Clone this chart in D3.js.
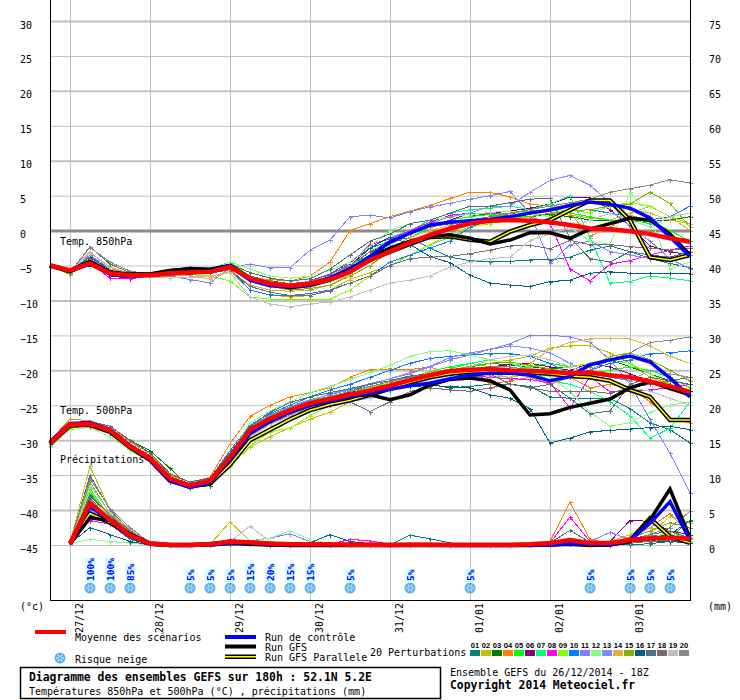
<!DOCTYPE html>
<html>
<head>
<meta charset="utf-8">
<script src="https://cdn.jsdelivr.net/npm/d3@7"></script>
<title>Diagramme des ensembles GEFS</title>
<style>
  body { margin: 0; background: #fff; }
  svg text { font-family: "DejaVu Sans Mono", monospace; font-size: 10px; fill: #000; }
</style>
</head>
<body>
<script>

// ---------- data ----------
var hours = [0,6,12,18,24,30,36,42,48,54,60,66,72,78,84,90,96,102,108,114,120,126,132,138,144,150,156,162,168,174,180,186,192];
var precipHours = hours.slice(1);

var dayTicks = [6,30,54,78,102,126,150,174];
var dayLabels = ["27/12","28/12","29/12","30/12","31/12","01/01","02/01","03/01"];

var leftTicks = [-45,-40,-35,-30,-25,-20,-15,-10,-5,0,5,10,15,20,25,30];
var rightTicks = [0,5,10,15,20,25,30,35,40,45,50,55,60,65,70,75];

var memberNames = ["01","02","03","04","05","06","07","08","09","10","11","12","13","14","15","16","17","18","19","20"];
var memberColors = ["#008080","#c0c000","#008000","#ff8000","#00ff00","#800080","#00ff80","#ff00ff","#80ff00","#0080ff",
                    "#8080ff","#80ff80","#8888ff","#e0b040","#80b000","#006080","#507080","#806870","#c0c0c0","#888888"];

// temperature 850 hPa (°C), one row per perturbation
var t850 = [
  [-5,-5.6,-4.2,-5.8,-6.3,-6.5,-6.2,-5.9,-5.8,-5.0,-6.5,-7.4,-7.8,-7.2,-6.2,-4.5,-2.5,-1.5,-1.0,-2.5,-3.8,-4.3,-4.5,-4.4,-4.2,-4.2,-3.8,-2.8,-2.2,-3.0,-4.0,-4.7,-5.3],
  [-5,-6.2,-3.5,-5.5,-6.6,-6.6,-6.3,-6.5,-6.6,-5.8,-8.5,-9.2,-9.5,-9.3,-8.5,-7.0,-6.0,-5.0,-3.5,-2.0,-1.0,0.5,1.0,1.8,2.0,2.5,2.2,1.8,1.5,2.5,3.5,2.0,0.0],
  [-5,-5.7,-4.8,-6.0,-6.4,-6.5,-6.2,-6.0,-5.8,-4.8,-6.5,-7.2,-7.6,-7.3,-6.5,-5.0,-3.0,-2.5,-1.0,0.5,1.5,2.0,2.5,2.5,2.0,2.3,2.0,1.5,1.5,1.5,1.3,1.5,2.0],
  [-5,-5.5,-3.8,-5.2,-6.2,-6.7,-6.5,-6.2,-6.0,-5.3,-6.8,-7.0,-7.2,-6.5,-4.5,0.0,1.0,2.0,2.8,3.6,4.6,5.5,5.5,4.8,3.8,3.5,2.5,-0.8,0.5,2.2,1.5,0.0,-1.5],
  [-5,-5.8,-4.5,-6.2,-6.5,-6.2,-5.8,-5.7,-5.5,-4.5,-6.5,-7.5,-7.8,-7.5,-7.0,-6.0,-4.0,-2.5,-1.0,0.5,1.5,2.0,2.3,2.5,2.8,3.0,2.5,2.0,1.5,1.5,1.0,0.0,-1.5],
  [-5,-5.9,-4.0,-6.5,-6.8,-6.5,-6.2,-6.0,-5.9,-4.9,-7.0,-7.8,-8.0,-7.5,-6.8,-5.2,-3.0,-1.8,-0.5,0.5,1.5,2.5,2.5,2.8,3.2,3.8,4.8,4.7,3.0,0.6,-2.2,-3.0,-3.5],
  [-5,-5.7,-4.4,-6.0,-6.3,-6.4,-6.0,-5.8,-5.7,-5.0,-6.8,-7.5,-7.7,-7.3,-6.5,-5.0,-3.5,-1.0,0.0,1.5,2.5,3.0,3.2,3.5,3.0,3.8,5.0,-1.0,-7.5,-7.3,-6.5,-6.8,-7.2],
  [-5,-5.8,-4.6,-6.8,-6.9,-6.5,-6.2,-6.0,-5.8,-5.3,-7.2,-7.6,-7.8,-7.2,-6.3,-4.8,-2.0,-1.2,0.0,1.2,2.2,2.5,2.5,2.2,2.0,1.0,-5.5,-7.2,-4.8,-4.3,-3.5,-2.8,-2.2],
  [-5,-5.5,-5.0,-5.6,-6.0,-6.2,-6.2,-6.3,-6.5,-7.2,-9.5,-9.8,-9.9,-9.9,-9.8,-8.5,-6.5,-5.0,-3.5,-2.0,-0.5,0.5,1.0,1.5,2.0,2.5,3.0,2.5,3.5,4.0,3.5,2.0,1.0],
  [-5,-5.7,-4.3,-5.9,-6.5,-6.3,-5.8,-5.2,-6.0,-5.5,-8.5,-9.2,-9.3,-9.0,-8.5,-7.5,-6.5,-4.5,-3.5,-2.5,-1.5,0.5,1.5,2.0,2.0,2.5,2.8,3.0,2.5,2.0,1.5,2.0,3.5],
  [-5,-5.9,-3.5,-5.5,-6.3,-6.2,-6.5,-7.0,-7.5,-5.3,-4.8,-5.3,-5.3,-2.8,-1.35,2.0,2.2,1.8,2.7,3.4,3.9,4.5,5.0,5.6,2.5,-4.7,-2.0,-1.5,-3.0,-3.5,-4.0,-4.3,-3.5],
  [-5,-5.6,-4.8,-5.8,-6.2,-6.3,-6.0,-5.8,-5.6,-4.5,-5.5,-6.5,-6.8,-6.5,-5.7,-4.5,-2.2,0.0,1.0,1.5,2.0,2.3,2.6,2.8,2.5,2.0,0.5,-1.5,-2.0,5.5,2.0,-5.5,-4.5],
  [-5,-5.8,-3.8,-5.9,-6.4,-6.5,-6.3,-6.1,-6.0,-5.4,-7.0,-7.8,-8.1,-7.7,-6.9,-5.5,-3.5,-2.0,-0.5,1.0,2.0,2.5,3.5,3.5,5.5,7.2,7.9,6.5,4.0,0.5,-1.5,-4.0,-5.5],
  [-5,-5.8,-3.2,-5.2,-6.5,-6.6,-6.4,-6.5,-6.9,-5.8,-7.8,-8.5,-8.7,-8.5,-7.8,-6.3,-4.0,-2.5,-1.0,0.0,0.8,1.5,2.0,2.0,2.5,3.2,3.8,4.5,4.0,3.0,2.5,1.5,1.0],
  [-5,-6.3,-4.0,-6.2,-6.5,-6.4,-6.0,-5.9,-5.7,-4.9,-7.0,-8.0,-8.5,-8.3,-7.8,-6.5,-5.0,-3.0,-2.0,-0.5,0.5,1.5,2.0,2.2,2.0,2.5,2.8,3.0,3.5,3.8,5.5,3.9,0.5],
  [-5,-5.7,-3.8,-5.6,-6.4,-6.6,-6.4,-6.2,-6.0,-5.5,-7.0,-7.8,-8.2,-7.8,-6.8,-5.0,-2.5,-0.9,-2.0,-3.7,-4.6,-6.4,-7.5,-7.8,-8.0,-7.3,-7.1,-6.1,-5.9,-6.1,-6.1,-6.1,-6.2],
  [-5,-6.0,-2.3,-4.8,-6.0,-6.3,-6.0,-5.8,-5.5,-4.8,-6.0,-6.8,-7.2,-6.9,-5.5,-3.5,-1.5,-0.5,1.0,1.5,2.5,3.5,3.5,4.0,4.5,4.6,-1.0,-4.0,-4.5,-3.0,-3.5,-3.8,-3.0],
  [-5,-5.8,-4.0,-6.2,-6.6,-6.5,-6.3,-6.2,-6.1,-5.6,-8.0,-8.8,-9.3,-9.3,-8.6,-7.5,-6.5,-5.0,-4.0,-3.8,-3.7,-3.3,-2.8,-2.2,-2.1,-2.6,-1.4,-2.0,-2.0,-2.3,-2.5,-2.8,-2.5],
  [-5,-5.9,-3.0,-5.5,-6.4,-6.6,-6.8,-6.7,-6.5,-6.0,-9.5,-10.5,-10.9,-10.5,-10.2,-9.5,-8.5,-7.5,-7.1,-6.5,-5.2,-4.5,-4.0,-3.8,-1.4,-0.5,0.5,1.5,2.5,1.5,0.5,2.0,2.5],
  [-5,-6.0,-2.4,-4.5,-5.8,-6.2,-6.0,-5.8,-5.6,-5.0,-6.5,-7.3,-7.6,-7.3,-6.6,-5.0,-3.0,-1.5,-0.5,0.5,1.0,1.5,2.0,2.5,3.0,3.5,4.0,4.5,5.5,6.0,6.5,7.3,6.8]
];
var mean850 = [-5,-5.7,-4.7,-6.1,-6.4,-6.4,-6.1,-6.0,-5.9,-5.2,-6.8,-7.6,-7.9,-7.6,-7.0,-5.9,-4.2,-3.0,-1.7,-0.6,0.3,1.0,1.4,1.5,1.4,1.2,0.8,0.3,0.2,-0.1,-0.5,-1.1,-1.6];
var ctrl850 = [-5,-5.8,-4.8,-6.2,-6.5,-6.4,-6.1,-6.0,-5.8,-5.0,-7.1,-7.9,-8.0,-7.8,-6.8,-5.6,-3.7,-1.6,-0.35,0.8,1.2,1.4,1.6,2.0,2.5,2.95,3.6,4.1,3.75,3.2,1.8,-0.9,-3.7];
var gfs850 = [-5,-5.8,-4.6,-6.0,-6.3,-6.2,-5.7,-5.5,-5.6,-5.0,-6.8,-7.6,-8.0,-7.6,-6.8,-5.5,-3.8,-2.5,-1.5,-0.8,-0.6,-1.1,-1.9,-1.35,-0.3,-0.3,-1.1,0.2,1.0,1.8,1.5,-0.5,-3.5];
var para850 = [-5,-5.8,-4.5,-6.0,-6.3,-6.3,-5.8,-5.5,-5.6,-5.1,-6.9,-7.7,-8.1,-7.8,-7.0,-5.8,-4.2,-3.0,-1.9,-0.9,-0.8,-1.3,-1.6,-0.15,0.8,1.5,2.95,4.3,4.3,1.5,-3.8,-4.2,-3.5];

// temperature 500 hPa (°C)
var t500 = [
  [-30.0,-27.5,-27.3,-28.2,-30.5,-32.2,-35.2,-36.3,-35.6,-32.0,-28.5,-26.8,-25.6,-24.6,-24.0,-23.2,-22.5,-22.0,-21.8,-22.0,-22.5,-22.3,-22.0,-22.0,-22.3,-23.8,-24.0,-24.0,-24.0,-25.5,-27.5,-28.5,-30.4],
  [-30.8,-28.2,-28.0,-29.0,-31.2,-33.0,-35.5,-36.5,-36.0,-33.5,-31.0,-29.5,-28.2,-27.0,-26.0,-24.5,-23.0,-22.0,-21.0,-20.5,-20.0,-19.5,-19.0,-18.5,-18.0,-16.8,-16.5,-16.5,-17.5,-19.0,-21.0,-22.0,-23.0],
  [-30.2,-27.6,-27.5,-28.3,-30.0,-31.5,-34.0,-36.8,-36.5,-32.5,-28.8,-26.8,-25.5,-24.5,-23.8,-23.0,-22.0,-21.5,-21.0,-20.5,-20.0,-19.5,-19.0,-19.2,-19.5,-19.8,-19.5,-19.0,-18.5,-19.5,-20.5,-21.5,-22.0],
  [-30.0,-27.0,-27.2,-28.2,-30.2,-32.0,-35.0,-36.0,-35.3,-30.5,-26.6,-25.0,-23.8,-23.2,-22.5,-21.0,-19.9,-19.8,-19.9,-19.5,-20.5,-19.5,-22.0,-21.5,-21.0,-22.0,-21.0,-22.5,-22.0,-22.5,-24.5,-27.0,-27.5],
  [-30.3,-27.7,-27.6,-28.6,-30.8,-32.6,-35.8,-36.9,-36.0,-32.3,-28.2,-26.5,-25.3,-24.4,-23.7,-23.0,-22.4,-21.8,-21.0,-20.2,-19.5,-19.0,-19.5,-20.0,-19.5,-19.0,-19.5,-20.5,-20.0,-19.5,-20.0,-21.0,-22.5],
  [-30.4,-27.8,-27.6,-28.5,-30.6,-32.4,-35.5,-36.4,-35.7,-32.2,-28.4,-26.7,-25.5,-24.6,-23.8,-23.2,-22.6,-22.0,-21.5,-21.0,-20.5,-20.0,-19.5,-19.2,-19.0,-19.5,-20.0,-19.0,-19.5,-20.5,-21.5,-22.5,-23.0],
  [-30.6,-27.9,-27.9,-28.8,-31.0,-32.8,-35.9,-36.7,-36.2,-32.7,-28.8,-27.0,-25.8,-24.8,-24.2,-23.6,-23.0,-22.2,-21.2,-20.5,-19.8,-19.0,-18.5,-19.0,-20.0,-21.5,-22.0,-23.0,-24.5,-26.5,-29.7,-28.3,-24.5],
  [-30.3,-27.7,-27.7,-28.6,-30.8,-32.7,-35.7,-36.6,-36.0,-32.6,-28.8,-27.0,-25.6,-24.5,-23.9,-23.4,-22.8,-22.0,-21.3,-20.8,-20.6,-20.8,-21.0,-21.2,-21.3,-21.8,-25.4,-20.9,-23.1,-23.0,-22.8,-22.5,-22.0],
  [-30.5,-28.0,-27.9,-28.8,-31.0,-32.8,-35.8,-36.8,-36.3,-33.8,-30.8,-28.8,-28.3,-26.5,-25.0,-24.0,-23.2,-22.5,-21.5,-21.0,-20.5,-20.0,-20.5,-21.0,-20.5,-20.0,-19.5,-19.0,-18.5,-19.0,-20.5,-22.0,-23.5],
  [-30.0,-27.5,-27.5,-28.3,-30.5,-32.2,-35.3,-36.2,-35.5,-31.5,-27.8,-26.2,-25.0,-23.8,-22.8,-22.0,-21.0,-20.0,-19.0,-18.3,-18.0,-17.8,-17.6,-17.6,-18.0,-19.0,-20.5,-20.0,-19.0,-18.5,-17.6,-17.5,-17.2],
  [-30.2,-27.6,-27.4,-28.3,-30.5,-32.3,-35.4,-36.4,-35.7,-32.0,-28.0,-26.4,-25.2,-24.2,-23.5,-22.8,-22.0,-21.2,-20.5,-19.5,-18.5,-17.8,-17.0,-16.2,-15.0,-15.0,-15.2,-16.0,-18.5,-22.0,-27.0,-31.9,-37.5],
  [-31.0,-28.5,-28.2,-29.5,-31.5,-33.0,-35.8,-36.8,-36.2,-32.0,-27.5,-25.8,-24.5,-23.2,-22.3,-21.3,-20.3,-19.3,-18.0,-17.3,-17.2,-17.8,-18.5,-19.0,-19.5,-21.0,-23.0,-26.0,-28.0,-27.5,-26.0,-25.0,-24.5],
  [-30.6,-27.9,-27.8,-28.7,-31.0,-32.8,-35.8,-36.6,-36.0,-32.5,-28.4,-26.8,-25.3,-24.3,-23.4,-22.7,-21.9,-21.2,-20.3,-19.4,-18.2,-17.5,-17.0,-16.5,-16.8,-17.5,-19.0,-20.5,-21.0,-21.5,-20.0,-20.5,-21.0],
  [-30.5,-27.4,-27.6,-28.7,-31.0,-32.9,-35.8,-36.5,-36.0,-33.0,-29.5,-27.6,-26.5,-25.2,-24.2,-23.3,-22.5,-21.8,-21.0,-20.3,-19.8,-20.0,-20.8,-21.0,-19.0,-17.0,-16.0,-15.5,-15.4,-15.5,-16.5,-18.0,-19.0],
  [-30.4,-27.8,-27.7,-28.6,-30.8,-32.6,-35.6,-36.5,-35.9,-32.4,-28.6,-27.1,-26.0,-24.9,-24.1,-23.4,-22.8,-22.0,-21.2,-20.5,-20.0,-19.4,-19.0,-18.8,-19.3,-19.8,-20.5,-19.5,-18.0,-17.5,-18.5,-20.0,-21.5],
  [-30.3,-27.7,-27.6,-28.4,-30.6,-32.4,-35.4,-36.3,-35.8,-32.6,-28.8,-27.2,-26.0,-25.0,-24.4,-23.8,-23.3,-22.8,-22.3,-22.2,-22.3,-22.5,-23.5,-24.0,-25.5,-30.4,-29.7,-28.8,-28.6,-28.4,-28.2,-28.0,-28.5],
  [-30.1,-27.5,-27.3,-28.0,-30.0,-31.8,-34.8,-36.0,-35.4,-31.8,-28.0,-26.0,-24.6,-23.8,-23.2,-22.6,-22.0,-21.5,-20.8,-20.5,-20.5,-21.0,-20.5,-22.0,-22.5,-22.0,-24.0,-26.2,-25.8,-22.0,-21.0,-21.5,-22.0],
  [-30.5,-27.9,-27.9,-28.9,-31.1,-33.0,-36.0,-36.9,-36.3,-33.0,-29.3,-27.6,-26.4,-25.5,-25.0,-24.5,-25.9,-24.5,-23.0,-22.5,-22.8,-23.0,-22.5,-22.0,-22.5,-23.0,-23.0,-23.0,-23.3,-22.5,-22.0,-21.5,-21.0],
  [-30.2,-27.6,-27.5,-28.4,-30.6,-32.5,-35.5,-36.5,-35.9,-32.8,-29.5,-27.8,-26.5,-25.3,-24.8,-24.5,-24.0,-22.5,-21.5,-21.0,-20.3,-19.5,-18.5,-18.0,-17.8,-18.5,-19.5,-20.5,-21.5,-22.5,-23.0,-24.0,-25.0],
  [-30.3,-27.7,-27.6,-28.5,-30.7,-32.5,-35.5,-36.4,-35.8,-32.3,-28.5,-26.8,-25.5,-24.5,-23.8,-23.0,-22.3,-21.6,-21.0,-20.5,-20.0,-19.8,-19.5,-19.5,-20.0,-20.5,-21.0,-20.0,-18.5,-17.5,-16.0,-15.7,-15.2]
];
var mean500 = [-30.4,-27.8,-27.7,-28.6,-30.9,-32.6,-35.5,-36.5,-35.8,-32.4,-28.5,-26.9,-25.7,-24.7,-24.1,-23.5,-22.9,-22.2,-21.4,-20.7,-20.1,-19.9,-19.8,-20.0,-20.05,-20.2,-20.4,-20.3,-20.7,-21.0,-21.6,-22.3,-23.1];
var ctrl500 = [-30.2,-27.6,-27.5,-28.5,-30.8,-32.8,-35.8,-36.8,-36.0,-32.8,-29.0,-27.2,-26.0,-25.0,-24.4,-23.8,-23.3,-22.7,-22.2,-21.8,-21.2,-20.7,-20.4,-20.4,-20.7,-21.5,-20.9,-19.2,-18.5,-17.95,-18.8,-21.1,-23.8];
var gfs500 = [-30.3,-27.7,-27.6,-28.6,-30.9,-32.7,-35.7,-36.7,-36.0,-32.9,-29.0,-27.3,-26.0,-25.0,-24.4,-23.7,-23.5,-24.2,-23.5,-22.1,-21.3,-21.1,-21.5,-22.8,-26.4,-26.2,-25.3,-24.7,-24.1,-22.5,-21.6,-22.6,-23.5];
var para500 = [-30.5,-27.9,-27.8,-28.8,-31.0,-32.8,-35.8,-36.6,-36.2,-33.5,-30.0,-28.5,-27.0,-25.7,-24.9,-24.3,-23.5,-22.6,-21.7,-21.0,-20.5,-20.2,-20.1,-20.2,-20.3,-20.5,-20.8,-21.0,-21.5,-22.8,-23.8,-27.1,-27.1];

// precipitation (mm per 6h), from +6h
var precip = [
  [0.2,5.5,3.0,0.8,0.1,0,0,0,0.2,0.1,0,0,0,0,0,0,0,1.4,0.9,0.3,0,0,0,0,0,0.3,0.2,0.1,0,0.2,0.5,0.3],
  [0.3,11.3,5.0,1.8,0.2,0,0,0.1,3.3,0.6,0.2,0.1,0.1,0,0,0,0,0,0,0,0,0,0,0,0.2,0.5,0.3,0.2,0.5,1.5,4.1,3.2],
  [0.2,7.0,4.2,1.5,0.1,0,0,0,0.3,0.2,0.1,0,0,0,0,0,0,0,0,0,0,0,0,0,0,0.2,0.1,0,0.4,1.0,1.5,3.5],
  [0.2,6.5,4.5,2.0,0.2,0,0,0,0.4,0.3,0.1,0,0,0,0,0,0,0,0,0,0,0,0,0,0.5,6.1,0.8,0.2,1.2,2.5,4.5,1.5],
  [0.2,7.5,4.0,1.2,0.1,0,0,0,0.2,0.3,0.2,0.1,0,0,0,0,0,0,0,0,0,0,0,0,0.1,0.3,0.2,0.1,0.3,0.8,2.0,0.5],
  [0.2,4.5,3.5,1.5,0.2,0,0,0,0.5,0.4,0.3,0.2,0.1,0,0,0,0,0,0,0,0,0,0,0,0,0.2,0.2,0.5,3.5,3.4,2.0,1.5],
  [0.2,8.0,4.0,1.3,0.2,0,0,0,0.3,0.4,0.2,0.1,0,0,0,0,0,0,0,0,0,0,0,0,0.1,0.3,0.2,0.1,0.6,1.2,1.0,0.4],
  [0.2,3.5,3.0,1.0,0.1,0,0,0,0.8,0.5,0.3,0.2,0.1,0.1,0.8,0.6,0.1,0,0,0,0,0,0,0,0.3,4.0,0.5,0.3,0.8,1.0,0.8,0.5],
  [0.2,7.8,3.8,1.2,0.2,0,0,0,0.3,0.2,0.1,0.1,0,0,0,0,0,0,0,0,0,0,0,0,0,0.2,0.1,0.1,0.4,0.8,1.2,0.6],
  [0.2,6.8,3.5,1.3,0.1,0,0,0,0.2,0.2,0.1,0,0,0,0,0,0,0,0,0,0,0,0,0,0,0.1,0.2,0.3,0.8,1.5,1.0,3.6],
  [0.2,5.0,3.2,1.6,0.3,0,0,0,0.4,0.6,1.0,1.6,0.5,0.1,0,0,0,0,0,0,0,0,0,0,0.2,0.3,0.5,1.8,0.8,1.2,0.6,0.3],
  [0.2,0.8,0.5,0.3,0,0,0,0,0.3,0.5,1.0,2.0,0.8,0.2,0,0,0,0,0,0,0,0,0,0,0.1,0.3,0.2,0.3,0.5,1.0,1.8,0.4],
  [0.2,5.8,3.8,1.8,0.2,0,0,0,0.3,0.3,0.2,0.1,0,0,0,0,0,0,0,0,0,0,0,0,0,0.2,0.3,0.2,0.5,0.8,0.6,0.4],
  [0.2,6.2,4.8,2.2,0.3,0,0,0,0.4,0.5,0.3,0.1,0,0,0,0,0,0,0,0,0,0,0,0,0.1,0.4,0.3,0.5,1.5,2.5,2.0,0.8],
  [0.2,9.0,4.5,1.5,0.1,0,0,0,0.3,0.4,0.2,0.1,0,0,0,0,0,0,0,0,0,0,0,0,0.1,0.2,0.2,0.4,1.0,2.0,3.2,2.5],
  [0.2,2.5,1.5,0.5,0,0,0,0,0.2,0.3,0.2,0.2,0.3,1.5,0.5,0.2,0,0,0,0,0,0,0,0,0,0.2,0.1,0.2,0.4,0.6,0.5,0.3],
  [0.2,10.0,5.0,2.0,0.2,0,0,0,0.4,0.5,0.3,0.2,0.1,0,0,0,0,0,0,0,0,0,0,0,0.3,2.1,0.4,0.2,0.6,1.5,2.0,1.0],
  [0.2,7.2,4.3,1.8,0.2,0,0,0,0.3,0.3,0.2,0.1,0,0,0,0,0,0,0,0,0,0,0,0,0,0.2,0.1,0.1,0.3,0.5,0.7,0.4],
  [0.2,8.5,4.6,2.3,0.3,0,0,0,0.5,2.7,0.5,0.2,0.1,0,0,0,0,0,0,0,0,0,0,0,0.1,0.3,0.3,0.2,0.5,1.0,0.8,0.5],
  [0.2,9.5,5.2,2.5,0.3,0,0,0,0.3,0.4,0.3,0.2,0,0,0,0,0,0,0,0,0,0,0,0,0.1,0.4,0.3,0.2,0.6,1.5,2.5,4.8]
];
var meanPrecip = [0.2,6.0,3.6,1.4,0.2,0,0,0.1,0.5,0.4,0.2,0.1,0.1,0.1,0.05,0.05,0,0.05,0.05,0,0,0,0,0.1,0.3,0.7,0.3,0.3,0.7,0.95,1.05,0.9];
var ctrlPrecip = [0.2,5.5,3.5,1.3,0.1,0,0,0,0.3,0.3,0.1,0,0,0,0,0,0,0,0,0,0,0,0,0,0,0.2,0.1,0,0.7,3.1,6.2,0.7];
var gfsPrecip = [0.2,3.9,3.5,1.3,0.1,0,0,0,0.2,0.1,0,0,0,0,0,0,0,0,0,0,0,0,0,0,0,0.1,0,0,0.5,3.6,8.0,1.0];
var paraPrecip = [0.2,4.5,3.2,1.5,0.2,0,0,0.1,0.4,0.3,0.1,0,0,0,0,0,0,0,0,0,0,0,0,0,0.1,0.2,0,0.1,0.6,3.8,1.2,0.3];

// snow risk (%)
var snowHours = [12,18,24,42,48,54,60,66,72,78,90,108,126,162,174,180,186];
var snowPct = [100,100,85,5,5,5,15,20,15,15,5,5,5,5,5,5,5];

// ---------- scales ----------
var width = 740;
var height = 700;

var x = d3.scaleLinear().domain([0, 192]).range([50, 690]);
var yT = d3.scaleLinear().domain([-45, 30]).range([545, 21]);   // °C
var yP = d3.scaleLinear().domain([0, 75]).range([545, 21]);     // mm

var svg = d3.select("body").append("svg")
    .attr("width", width)
    .attr("height", height);

svg.append("rect").attr("width", width).attr("height", height).attr("fill", "#fff");

// ---------- grid + axes ----------
var xAxis = d3.axisBottom(x)
    .tickValues(dayTicks)
    .tickSize(-600)
    .tickFormat(function(d, i){ return dayLabels[i]; });

var gx = svg.append("g")
    .attr("class", "x axis")
    .attr("transform", "translate(0,600)")
    .call(xAxis);
gx.select(".domain").remove();
gx.selectAll("line").attr("stroke", "#c0c0c0");
gx.selectAll("text")
    .attr("transform", "rotate(-90)")
    .attr("text-anchor", "end")
    .attr("x", -3)
    .attr("y", 12)
    .attr("dy", null)
    .attr("fill", "#000");

var yAxis = d3.axisLeft(yT)
    .tickValues(leftTicks)
    .tickSize(-640)
    .tickFormat(d3.format("d"));

var gy = svg.append("g")
    .attr("class", "y axis")
    .attr("transform", "translate(50,0)")
    .call(yAxis);
gy.select(".domain").remove();
gy.selectAll("line")
    .attr("stroke", function(d){ return d == 0 ? "#8c8c8c" : "#c0c0c0"; })
    .attr("stroke-width", function(d){ return d == 0 ? 3 : (d % 10 == 0 ? 2 : 1); });
gy.selectAll("text")
    .attr("x", -30)
    .attr("text-anchor", "start")
    .attr("dy", "0.7em")
    .attr("fill", "#000");

var yAxisR = d3.axisRight(yP)
    .tickValues(rightTicks)
    .tickSize(0)
    .tickFormat(d3.format("d"));

var gyr = svg.append("g")
    .attr("class", "y2 axis")
    .attr("transform", "translate(690,0)")
    .call(yAxisR);
gyr.select(".domain").remove();
gyr.selectAll("text")
    .attr("x", 19)
    .attr("text-anchor", "start")
    .attr("dy", "0.7em")
    .attr("fill", "#000");

// ---------- series ----------
function lineFor(hrs, scale){
    return d3.line()
        .x(function(d, i){ return x(hrs[i]); })
        .y(function(d){ return scale(d); });
}

function drawLine(g, values, hrs, scale, color, w, crisp){
    g.append("path")
        .datum(values)
        .attr("d", lineFor(hrs, scale))
        .attr("fill", "none")
        .attr("stroke", color)
        .attr("stroke-width", w)
        .attr("shape-rendering", crisp ? "crispEdges" : null);
}

function drawMarks(g, values, hrs, scale, color){
    var d = "";
    values.forEach(function(v, i){
        var px = Math.round(x(hrs[i])) + 0.5, py = Math.round(scale(v)) + 0.5;
        d += "M" + (px - 2) + "," + py + "h4M" + px + "," + (py - 2) + "v4";
    });
    g.append("path").attr("d", d).attr("stroke", color).attr("stroke-width", 1)
        .attr("fill", "none").attr("shape-rendering", "crispEdges");
}

var plot = svg.append("g").attr("class", "series");

// perturbations
memberColors.forEach(function(c, m){
    drawLine(plot, t850[m], hours, yT, c, 1, true);
    drawMarks(plot, t850[m], hours, yT, c);
    drawLine(plot, t500[m], hours, yT, c, 1, true);
    drawMarks(plot, t500[m], hours, yT, c);
    drawLine(plot, precip[m], precipHours, yP, c, 1, true);
    drawMarks(plot, precip[m], precipHours, yP, c);
});

// GFS parallel run : yellow with black border
[[para850, hours, yT], [para500, hours, yT], [paraPrecip, precipHours, yP]].forEach(function(s){
    drawLine(plot, s[0], s[1], s[2], "#000", 4.5);
    drawLine(plot, s[0], s[1], s[2], "#ffff00", 1.5);
});
// GFS run
[[gfs850, hours, yT], [gfs500, hours, yT], [gfsPrecip, precipHours, yP]].forEach(function(s){
    drawLine(plot, s[0], s[1], s[2], "#000", 3.5);
});
// control run
[[ctrl850, hours, yT], [ctrl500, hours, yT], [ctrlPrecip, precipHours, yP]].forEach(function(s){
    drawLine(plot, s[0], s[1], s[2], "#0000ff", 3.5);
});
// ensemble mean
[[mean850, hours, yT], [mean500, hours, yT], [meanPrecip, precipHours, yP]].forEach(function(s){
    drawLine(plot, s[0], s[1], s[2], "#ff0000", 4.5);
});

// panel labels
svg.append("text").attr("x", 60).attr("y", 245).text("Temp. 850hPa");
svg.append("text").attr("x", 60).attr("y", 414).text("Temp. 500hPa");
svg.append("text").attr("x", 60).attr("y", 463).text("Précipitations");

// ---------- snow risk ----------
function snowflake(g, cx, cy){
    g.append("circle").attr("cx", cx).attr("cy", cy).attr("r", 5.5).attr("fill", "#62b2ec");
    [0, 60, 120].forEach(function(a){
        var r = a * Math.PI / 180;
        g.append("line")
            .attr("x1", cx - 4 * Math.cos(r)).attr("y1", cy - 4 * Math.sin(r))
            .attr("x2", cx + 4 * Math.cos(r)).attr("y2", cy + 4 * Math.sin(r))
            .attr("stroke", "#d6efff").attr("stroke-width", 1);
    });
    g.append("circle").attr("cx", cx).attr("cy", cy).attr("r", 1.3).attr("fill", "#62b2ec");
}

var snow = svg.append("g").attr("class", "snow");
snowHours.forEach(function(h, i){
    var cx = x(h);
    var label = snowPct[i] + "%";
    var len = label.length * 5.6;
    snow.append("rect")
        .attr("x", cx - 5).attr("y", 582 - len - 2)
        .attr("width", 10).attr("height", len + 2)
        .attr("fill", "#ccffff");
    snow.append("text")
        .attr("transform", "translate(" + (cx + 3.5) + ",581) rotate(-90)")
        .attr("text-anchor", "start")
        .style("font-size", "9.5px")
        .style("font-weight", "bold")
        .style("fill", "#0000ff")
        .text(label);
    snowflake(snow, cx, 588);
});

// frame
svg.append("line").attr("x1", 50.5).attr("x2", 50.5).attr("y1", 0).attr("y2", 600.5).attr("stroke", "#000");
svg.append("line").attr("x1", 690.5).attr("x2", 690.5).attr("y1", 0).attr("y2", 600.5).attr("stroke", "#000");
svg.append("line").attr("x1", 50).attr("x2", 691).attr("y1", 600.5).attr("y2", 600.5).attr("stroke", "#000");

svg.append("text").attr("x", 20).attr("y", 610).text("(°c)");
svg.append("text").attr("x", 708).attr("y", 610).text("(mm)");

// ---------- legend ----------
var legend = svg.append("g").attr("class", "legend");
legend.append("rect").attr("x", 35).attr("y", 630).attr("width", 31).attr("height", 4).attr("fill", "#ff0000");
legend.append("text").attr("x", 75).attr("y", 641).text("Moyenne des scénarios");
snowflake(legend, 60, 658);
legend.append("text").attr("x", 75).attr("y", 663).text("Risque neige");

legend.append("rect").attr("x", 225).attr("y", 635).attr("width", 31).attr("height", 4).attr("fill", "#0000ff");
legend.append("text").attr("x", 265).attr("y", 641).text("Run de contrôle");
legend.append("rect").attr("x", 225).attr("y", 644.5).attr("width", 31).attr("height", 4).attr("fill", "#000");
legend.append("text").attr("x", 265).attr("y", 651).text("Run GFS");
legend.append("rect").attr("x", 225).attr("y", 654.5).attr("width", 31).attr("height", 4.5).attr("fill", "#000");
legend.append("rect").attr("x", 225).attr("y", 656).attr("width", 31).attr("height", 1.5).attr("fill", "#ffff00");
legend.append("text").attr("x", 265).attr("y", 661).text("Run GFS Parallele");

legend.append("text").attr("x", 370).attr("y", 656).text("20 Perturbations");
memberNames.forEach(function(n, i){
    var sx = 470 + i * 11;
    legend.append("rect").attr("x", sx).attr("y", 650).attr("width", 10).attr("height", 6).attr("fill", memberColors[i]);
    legend.append("text")
        .attr("x", sx + 5).attr("y", 647.5)
        .attr("text-anchor", "middle")
        .style("font-family", "'Liberation Sans', sans-serif")
        .style("font-size", "7.5px")
        .style("font-weight", "bold")
        .text(n);
});

// title box
svg.append("rect")
    .attr("x", 20.5).attr("y", 667.5).attr("width", 420).attr("height", 31)
    .attr("fill", "none").attr("stroke", "#000").attr("stroke-width", 1.5);
svg.append("text").attr("x", 29).attr("y", 681)
    .style("font-weight", "bold").style("font-size", "11.4px")
    .text("Diagramme des ensembles GEFS sur 180h : 52.1N 5.2E");
svg.append("text").attr("x", 29).attr("y", 695)
    .text("Températures 850hPa et 500hPa (°C) , précipitations (mm)");

svg.append("text").attr("x", 450).attr("y", 676).text("Ensemble GEFS du 26/12/2014 - 18Z");
svg.append("text").attr("x", 450).attr("y", 689)
    .style("font-weight", "bold").style("font-size", "11.4px")
    .text("Copyright 2014 Meteociel.fr");

</script>
</body>
</html>
